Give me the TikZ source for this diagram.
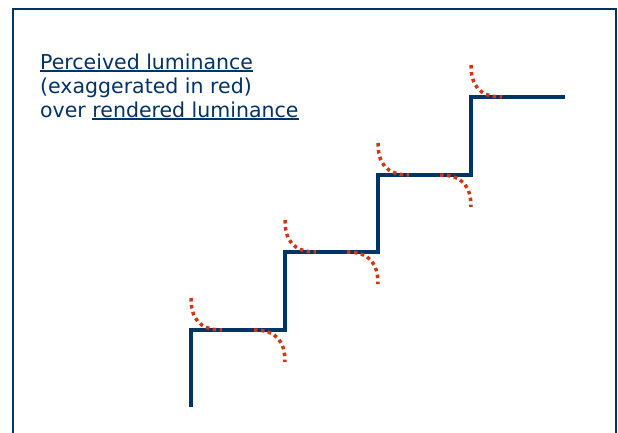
\documentclass[tikz,border=0pt]{standalone}
\usepackage{fontspec}
\setmainfont{DejaVu Sans}
\usetikzlibrary{positioning}

\definecolor{navy}{RGB}{0,51,102}
\definecolor{percred}{RGB}{208,55,20}

% underline with a heavier rule
\newcommand{\ulword}[1]{\setbox0\hbox{#1}\rlap{\rule[-3pt]{\wd0}{1.8pt}}\box0}

\begin{document}
\begin{tikzpicture}[
	x=1pt, y=-1pt,
	frame/.style={draw=navy, line width=2pt},
	rendered/.style={draw=navy, line width=3.5pt},
	perceived/.style={draw=percred, line width=3.5pt, dash pattern=on 3.5pt off 3.5pt},
	caption/.style={font=\fontsize{20.5}{24}\selectfont, text=navy, align=left, inner sep=0pt},
]
	\useasboundingbox (0,0) rectangle (618,432);

	% Frame (bottom edge lies outside the picture)
	\draw[frame] (13,440) -- (13,9) -- (616,9) -- (616,440);

	% Caption
	\node[caption, anchor=base west] (cap) at (40,117)
		{\ulword{Perceived luminance}\\(exaggerated in red)\\over \ulword{rendered luminance}};

	% Rendered luminance: staircase
	\draw[rendered] (191,407) -- (191,330) -- (285,330) -- (285,252) -- (378,252)
		-- (378,175) -- (471,175) -- (471,97) -- (565,97);

	% Perceived luminance: overshoot above each edge
	\foreach \x/\y in {191/330, 285/252, 378/175, 471/97} {
		\draw[perceived] (\x,\y-32) .. controls (\x,\y-12) and (\x+8,\y) .. (\x+31,\y);
	}

	% Perceived luminance: undershoot below each edge
	\foreach \x/\y in {285/330, 378/252, 471/175} {
		\draw[perceived] (\x-31,\y) .. controls (\x-8,\y) and (\x,\y+12) .. (\x,\y+32);
	}
\end{tikzpicture}
\end{document}
